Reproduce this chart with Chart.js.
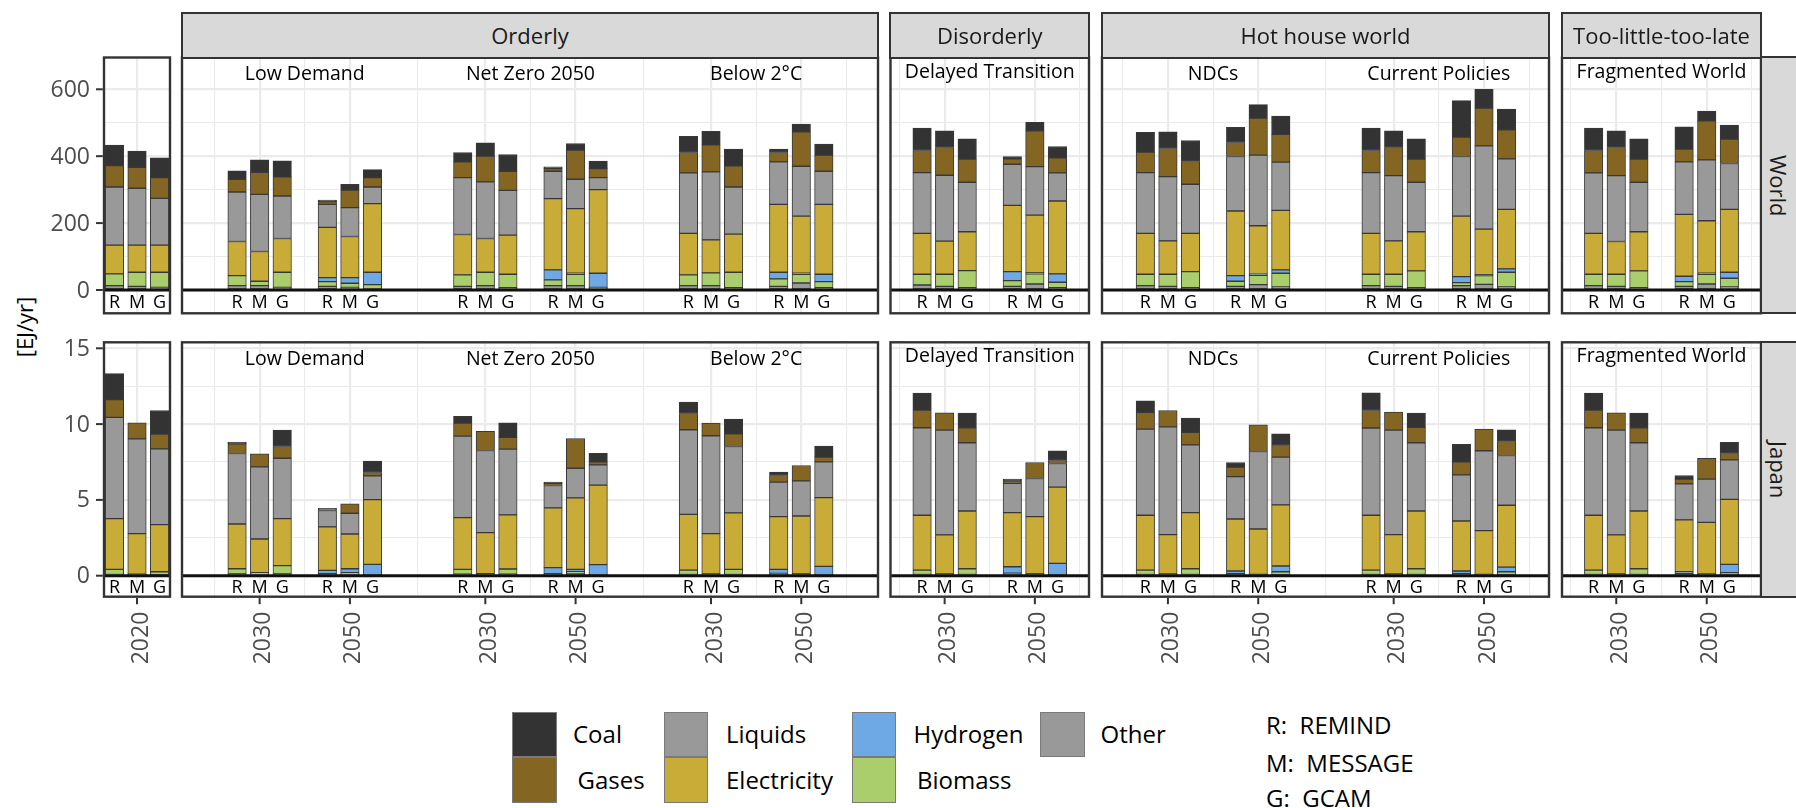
<!DOCTYPE html>
<html><head><meta charset="utf-8">
<script src="https://cdn.jsdelivr.net/npm/chart.js@4/dist/chart.umd.min.js"></script>
<style>
html,body{margin:0;padding:0;background:#fff;}
body{width:1796px;height:808px;overflow:hidden;position:relative;font-family:'Open Sans',sans-serif;}
canvas{position:absolute;}
.strip{position:absolute;box-sizing:border-box;background:#d9d9d9;border:2.4px solid #333;display:flex;align-items:center;justify-content:center;color:#1a1a1a;font-size:22px;white-space:nowrap;}
.vstrip{writing-mode:vertical-rl;}
.key{position:absolute;box-sizing:border-box;width:44.6px;height:45.4px;border:1px solid #7a7a7a;}
.lbl{position:absolute;font-size:24px;color:#000;line-height:1;transform:translateY(-50%);white-space:pre;}
#ytitle{position:absolute;left:24px;top:327px;transform:translate(-50%,-50%) rotate(-90deg);font-size:22px;color:#000;white-space:nowrap;}
</style></head><body>
<div id="ytitle">[EJ/yr]</div>
<script>
// ---------------- categories ----------------
const models = ['R', 'M', 'G'];
const modelNames = ['REMIND', 'MESSAGE', 'GCAM'];
const fuels = ['Other', 'Biomass', 'Hydrogen', 'Electricity', 'Liquids', 'Gases', 'Coal']; // stack order bottom -> top
const regions = ['World', 'Japan'];
const families = ['', 'Orderly', 'Disorderly', 'Hot house world', 'Too-little-too-late'];
const scenarioFamily = {'2020': '', 'Low Demand': 'Orderly', 'Net Zero 2050': 'Orderly', 'Below 2°C': 'Orderly',
  'Delayed Transition': 'Disorderly', 'NDCs': 'Hot house world', 'Current Policies': 'Hot house world',
  'Fragmented World': 'Too-little-too-late'};
const groupScenario = ['2020', 'Low Demand', 'Low Demand', 'Net Zero 2050', 'Net Zero 2050', 'Below 2°C', 'Below 2°C',
  'Delayed Transition', 'Delayed Transition', 'NDCs', 'NDCs', 'Current Policies', 'Current Policies',
  'Fragmented World', 'Fragmented World'];
const groupYear = ['2020', '2030', '2050', '2030', '2050', '2030', '2050', '2030', '2050', '2030', '2050', '2030', '2050', '2030', '2050'];
const yTicksWorld = [0, 200, 400, 600];
const yTicksJapan = [0, 5, 10, 15];

// ---------------- values (EJ/yr), 3 bars (R,M,G) per group, groups in groupScenario order ----------------
const world_other       = [13,11,8, 13,13,8, 11,8,3, 11,13,7, 13,13,3, 13,13,7, 11,21,7, 15,11,7, 11,18,7, 13,11,7, 11,16,9, 13,11,7, 13,17,9, 13,11,7, 11,18,9];
const world_biomass     = [35,42,45, 30,13,45, 14,12,13, 34,40,40, 17,34,5, 32,38,46, 22,26,18, 32,36,51, 17,30,16, 34,36,48, 15,28,41, 34,36,50, 9,26,44, 34,36,50, 14,29,26];
const world_hydrogen    = [0,0,0, 0,0,0, 12,17,37, 0,0,0, 30,3,42, 0,0,0, 20,3,22, 0,0,0, 27,3,25, 0,0,0, 17,3,10, 0,0,0, 18,3,10, 0,0,0, 16,3,18];
const world_electricity = [86,81,81, 102,89,101, 150,123,205, 121,101,117, 213,193,250, 124,99,114, 203,171,209, 122,99,116, 198,173,218, 122,100,114, 193,145,178, 122,100,117, 181,136,178, 122,98,117, 185,157,188];
const world_liquids     = [174,170,140, 148,171,127, 69,86,50, 170,169,134, 82,88,36, 181,203,141, 127,149,99, 182,197,148, 123,145,84, 182,192,147, 163,211,144, 182,195,148, 178,249,151, 181,197,148, 157,182,137];
const world_gases       = [64,63,62, 38,66,57, 8,53,28, 47,77,57, 8,87,27, 61,81,63, 28,103,48, 66,83,69, 16,107,45, 61,84,68, 42,111,83, 66,84,69, 58,113,87, 67,84,69, 38,117,73];
const world_coal        = [61,48,59, 25,37,48, 5,17,24, 28,40,50, 5,20,22, 48,40,50, 10,23,33, 67,50,61, 7,25,34, 59,50,63, 45,40,55, 67,50,61, 109,56,62, 67,50,61, 67,29,42];

const japan_other       = [0.08,0.05,0.06, 0.12,0.08,0.12, 0.05,0.1,0.03, 0.1,0.06,0.1, 0.05,0.15,0.03, 0.08,0.05,0.08, 0.05,0.04,0.03, 0.08,0.05,0.08, 0.06,0.05,0.03, 0.08,0.05,0.08, 0.05,0.04,0.06, 0.08,0.05,0.08, 0.05,0.04,0.06, 0.08,0.05,0.08, 0.05,0.06,0.04];
const japan_biomass     = [0.34,0.05,0.2, 0.34,0.12,0.54, 0.08,0.1,0.04, 0.32,0.07,0.34, 0.08,0.11,0.04, 0.29,0.06,0.34, 0.1,0.03,0.04, 0.29,0.06,0.38, 0.1,0.03,0.04, 0.29,0.06,0.38, 0.08,0.03,0.2, 0.29,0.06,0.38, 0.08,0.03,0.2, 0.29,0.06,0.38, 0.08,0.04,0.16];
const japan_hydrogen    = [0,0,0, 0,0,0, 0.22,0.26,0.68, 0,0,0, 0.4,0.16,0.66, 0,0,0, 0.27,0.05,0.55, 0,0,0, 0.43,0.05,0.74, 0,0,0, 0.18,0.02,0.38, 0,0,0, 0.18,0.02,0.31, 0,0,0, 0.13,0.02,0.55];
const japan_electricity = [3.35,2.68,3.11, 2.95,2.22,3.11, 2.87,2.29,4.27, 3.41,2.71,3.57, 3.94,4.71,5.24, 3.68,2.67,3.72, 3.48,3.82,4.53, 3.62,2.58,3.81, 3.57,3.77,5.03, 3.62,2.6,3.7, 3.43,2.99,4.03, 3.62,2.6,3.81, 3.3,2.88,4.08, 3.62,2.58,3.81, 3.42,3.4,4.29];
const japan_liquids     = [6.67,6.25,5.0, 4.65,4.76,3.98, 1.08,1.37,1.57, 5.38,5.42,4.34, 1.48,1.96,1.34, 5.58,6.45,4.38, 2.27,2.32,2.36, 5.77,6.91,4.5, 1.94,2.51,1.56, 5.68,7.11,4.47, 2.8,5.11,3.15, 5.75,6.89,4.5, 3.04,5.27,3.28, 5.77,6.91,4.5, 2.38,2.85,2.6];
const japan_gases       = [1.17,1.06,0.97, 0.64,0.86,0.77, 0.11,0.62,0.22, 0.86,1.26,0.77, 0.15,1.96,0.2, 1.07,0.84,0.84, 0.44,1.01,0.31, 1.17,1.15,0.99, 0.16,1.06,0.2, 1.1,1.08,0.82, 0.62,1.77,0.77, 1.16,1.19,1.01, 0.86,1.43,0.92, 1.17,1.15,0.99, 0.31,1.38,0.42];
const japan_coal        = [1.72,0,1.56, 0.11,0,1.08, 0.04,0,0.75, 0.44,0,0.97, 0.07,0,0.57, 0.75,0,0.97, 0.22,0,0.73, 1.12,0,0.97, 0.11,0,0.64, 0.77,0,0.95, 0.31,0,0.77, 1.17,0,0.95, 1.15,0,0.78, 1.12,0,0.97, 0.24,0,0.73];

const seriesByRegion = [
  [world_other, world_biomass, world_hydrogen, world_electricity, world_liquids, world_gases, world_coal],
  [japan_other, japan_biomass, japan_hydrogen, japan_electricity, japan_liquids, japan_gases, japan_coal]
];

// ---------------- styles & layout ----------------
const fuelColors = ['#999999', '#AACE6B', '#6EA9E6', '#C9AB37', '#999999', '#846622', '#333333'];
const FONT = "'Open Sans', sans-serif";
const panelBox = [[104, 170], [182, 878], [890.5, 1089], [1102, 1549], [1562, 1761]];
const panelXRange = [[-0.366, 0.366], [-0.86, 6.85], [-0.6, 1.6], [-0.73, 4.22], [-0.6, 1.6]];
const rowBox = [[57.5, 313.3], [342.3, 596.7]];
const rowYRange = [[-69.7, 695], [-1.385, 15.396]];
const modelOffset = [-0.25, 0, 0.25];
const stripTop = 12.7;

function minorBetween(major) {
  const out = [];
  if (major.length < 2) return out;
  out.push(major[0] - (major[1] - major[0]) / 2);
  for (let i = 0; i < major.length - 1; i++) out.push((major[i] + major[i + 1]) / 2);
  const n = major.length;
  out.push(major[n - 1] + (major[n - 1] - major[n - 2]) / 2);
  return out;
}

function makePanel(row, p) {
  const fam = families[p];
  const groups = [];
  groupScenario.forEach((s, g) => { if (scenarioFamily[s] === fam) groups.push(g); });
  const gx = [];
  groups.forEach((g, k) => {
    if (k === 0) gx.push(0);
    else gx.push(gx[k - 1] + (groupScenario[g] === groupScenario[groups[k - 1]] ? 1 : 1.5));
  });
  const series = seriesByRegion[row];
  const datasets = fuels.map((f, fi) => ({
    label: f,
    data: groups.flatMap((g, k) => models.map((m, mi) => ({x: gx[k] + modelOffset[mi], y: series[fi][g * 3 + mi]}))),
    backgroundColor: fuelColors[fi],
    borderColor: '#383838',
    borderWidth: 1,
    borderSkipped: false,
    barThickness: 18.5
  }));
  // subtitles
  const subs = [];
  groups.forEach((g, k) => {
    const s = groupScenario[g];
    if (s === '2020') return;
    let e = subs.find(o => o.text === s);
    if (!e) { e = {text: s, xs: []}; subs.push(e); }
    e.xs.push(gx[k]);
  });
  const xMinor = minorBetween(gx);
  const yMajor = row === 0 ? yTicksWorld : yTicksJapan;
  const yMinor = yMajor.slice(0, -1).map((v, i) => (v + yMajor[i + 1]) / 2);
  const [L, R] = panelBox[p];
  const [T, B] = rowBox[row];
  const cl = Math.floor(L - (p === 0 ? 74 : 4));
  const ct = Math.floor(T - 4);
  const cr = Math.ceil(R + 4);
  const cb = Math.ceil(B + (row === 1 ? 80 : 4));
  const cv = document.createElement('canvas');
  cv.width = cr - cl; cv.height = cb - ct;
  cv.style.left = cl + 'px'; cv.style.top = ct + 'px';
  document.body.appendChild(cv);

  const plugin = {
    id: 'panelDeco',
    afterDraw(chart) {
      const c = chart.ctx, a = chart.chartArea, xs = chart.scales.x, ys = chart.scales.y;
      c.save();
      // zero line
      const y0 = ys.getPixelForValue(0);
      c.strokeStyle = '#111'; c.lineWidth = 3;
      c.beginPath(); c.moveTo(a.left, y0); c.lineTo(a.right, y0); c.stroke();
      // model letters
      c.fillStyle = '#000'; c.font = '18px ' + FONT; c.textAlign = 'center'; c.textBaseline = 'middle';
      const yl = (y0 + a.bottom) / 2 + 1.5;
      gx.forEach(x => models.forEach((m, mi) => c.fillText(m, xs.getPixelForValue(x + modelOffset[mi]), yl)));
      // subtitles
      c.font = '19.5px ' + FONT; c.textBaseline = 'alphabetic';
      subs.forEach(s => {
        const xm = s.xs.reduce((u, v) => u + v, 0) / s.xs.length;
        c.fillText(s.text, xs.getPixelForValue(xm), a.top + (subs.length === 1 ? 20 : 22.5));
      });
      // border
      c.strokeStyle = '#333'; c.lineWidth = 2.4;
      c.strokeRect(a.left, a.top, a.right - a.left, a.bottom - a.top);
      // y axis
      if (p === 0) {
        c.font = '23px ' + FONT; c.fillStyle = '#4d4d4d'; c.textAlign = 'right'; c.textBaseline = 'middle';
        c.strokeStyle = '#333'; c.lineWidth = 2;
        yMajor.forEach(v => {
          const y = ys.getPixelForValue(v);
          c.beginPath(); c.moveTo(a.left - 8, y); c.lineTo(a.left - 1.2, y); c.stroke();
          c.fillText(String(v), a.left - 14, y + 1);
        });
      }
      // x axis (bottom row)
      if (row === 1) {
        c.strokeStyle = '#333'; c.lineWidth = 2;
        c.font = '23px ' + FONT; c.fillStyle = '#4d4d4d'; c.textAlign = 'right'; c.textBaseline = 'middle';
        groups.forEach((g, k) => {
          const x = xs.getPixelForValue(gx[k]);
          c.beginPath(); c.moveTo(x, a.bottom + 1.2); c.lineTo(x, a.bottom + 7.5); c.stroke();
          c.save(); c.translate(x + 4, a.bottom + 15); c.rotate(-Math.PI / 2);
          c.fillText(groupYear[g], 0, 0); c.restore();
        });
      }
      c.restore();
    }
  };

  new Chart(cv, {
    type: 'bar',
    data: {datasets},
    options: {
      responsive: false, animation: false, devicePixelRatio: 1,
      layout: {padding: {left: L - cl, top: T - ct, right: cr - R, bottom: cb - B}},
      plugins: {legend: {display: false}, tooltip: {enabled: false}},
      scales: {
        x: {
          type: 'linear', min: panelXRange[p][0], max: panelXRange[p][1], bounds: 'data',
          stacked: true, offset: false,
          ticks: {display: false},
          border: {display: false},
          grid: {offset: false, drawTicks: false, color: '#ebebeb',
            lineWidth: ctx => (gx.includes(ctx.tick && ctx.tick.value) ? 2.2 : 1.1)},
          afterBuildTicks: s => { s.ticks = gx.concat(xMinor).map(v => ({value: v})); }
        },
        y: {
          type: 'linear', min: rowYRange[row][0], max: rowYRange[row][1], bounds: 'data',
          stacked: true,
          ticks: {display: false},
          border: {display: false},
          grid: {drawTicks: false, color: '#ebebeb',
            lineWidth: ctx => (yMajor.includes(ctx.tick && ctx.tick.value) ? 2.2 : 1.1)},
          afterBuildTicks: s => { s.ticks = yMajor.concat(yMinor).map(v => ({value: v})); }
        }
      }
    },
    plugins: [plugin]
  });
}

for (let row = 0; row < 2; row++) for (let p = 0; p < families.length; p++) makePanel(row, p);

// strips (facet labels)
families.forEach((f, p) => {
  if (!f) return;
  const d = document.createElement('div');
  d.className = 'strip';
  const [L, R] = panelBox[p];
  d.style.left = (L - 1.2) + 'px'; d.style.top = (stripTop - 1.2) + 'px';
  d.style.width = (R - L + 2.4) + 'px'; d.style.height = (rowBox[0][0] - stripTop + 2.4) + 'px';
  d.textContent = f;
  document.body.appendChild(d);
});
regions.forEach((r, i) => {
  const d = document.createElement('div');
  d.className = 'strip vstrip';
  const [T, B] = rowBox[i];
  d.style.left = (panelBox[4][1] - 1.2) + 'px'; d.style.top = (T - 1.2) + 'px';
  d.style.width = '38.5px'; d.style.height = (B - T + 2.4) + 'px';
  d.textContent = r;
  document.body.appendChild(d);
});

// legend
const legendKeyPos = {Coal: [512, 711.7], Gases: [512, 757.3], Liquids: [663.6, 711.7], Electricity: [663.6, 757.3],
  Hydrogen: [851.8, 711.7], Biomass: [851.8, 757.3], Other: [1040, 711.7]};
const legendLabelPos = {Coal: [573, 734], Gases: [577.5, 780], Liquids: [726, 734], Electricity: [726, 780],
  Hydrogen: [913.6, 734], Biomass: [917, 780], Other: [1100.5, 734]};
fuels.forEach((f, fi) => {
  const k = document.createElement('div');
  k.className = 'key';
  k.style.left = legendKeyPos[f][0] + 'px'; k.style.top = legendKeyPos[f][1] + 'px';
  k.style.background = fuelColors[fi];
  document.body.appendChild(k);
  const t = document.createElement('div');
  t.className = 'lbl';
  t.style.left = legendLabelPos[f][0] + 'px'; t.style.top = legendLabelPos[f][1] + 'px';
  t.textContent = f;
  document.body.appendChild(t);
});
const modelRowY = [725, 763, 798];
models.forEach((m, i) => {
  const t = document.createElement('div');
  t.className = 'lbl';
  t.style.left = '1266px'; t.style.top = modelRowY[i] + 'px';
  t.textContent = m + ':  ' + modelNames[i];
  document.body.appendChild(t);
});
</script>
</body></html>
